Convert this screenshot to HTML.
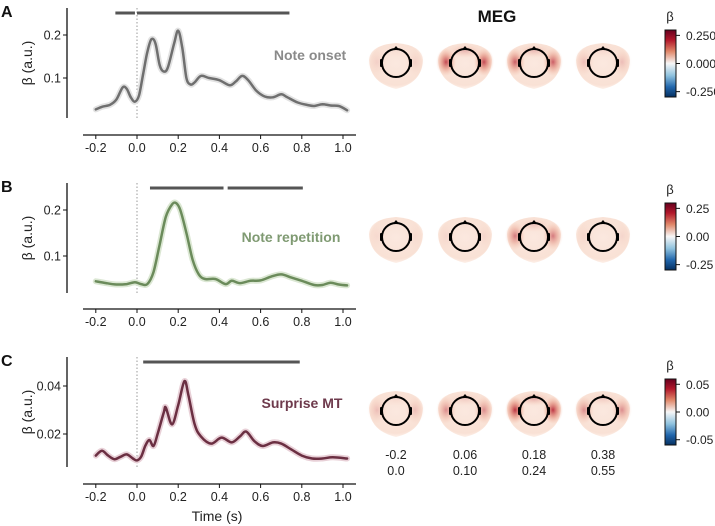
<!DOCTYPE html>
<html><head><meta charset="utf-8">
<style>
html,body{margin:0;padding:0;background:#fff;}
svg{display:block;font-family:"Liberation Sans Narrow","Liberation Sans",sans-serif;}
</style></head>
<body>
<svg id="fig" width="715" height="526" viewBox="0 0 715 526">
<defs>
<radialGradient id="blob" cx="50%" cy="45%" r="55%">
<stop offset="0" stop-color="#fbe8df"/><stop offset="0.85" stop-color="#f9e1d5"/><stop offset="1" stop-color="#fdf1ea"/>
</radialGradient>
<radialGradient id="spot" cx="50%" cy="50%" r="50%">
<stop offset="0" stop-color="#b2182b" stop-opacity="0.95"/><stop offset="0.5" stop-color="#d6604d" stop-opacity="0.5"/><stop offset="1" stop-color="#f4a582" stop-opacity="0"/>
</radialGradient>
<linearGradient id="cmap" x1="0" y1="0" x2="0" y2="1">
<stop offset="0" stop-color="#67001f"/><stop offset="0.15" stop-color="#b2182b"/><stop offset="0.32" stop-color="#e08769"/>
<stop offset="0.5" stop-color="#f7f7f7"/><stop offset="0.68" stop-color="#8fc2de"/><stop offset="0.85" stop-color="#2166ac"/><stop offset="1" stop-color="#053061"/>
</linearGradient>
</defs>
</svg>
<script>
const tA=[-0.2,-0.17,-0.13,-0.1,-0.07,-0.05,-0.03,-0.01,0.01,0.03,0.05,0.07,0.09,0.11,0.13,0.15,0.18,0.2,0.22,0.24,0.26,0.28,0.31,0.35,0.4,0.45,0.48,0.51,0.54,0.58,0.62,0.66,0.7,0.73,0.78,0.83,0.86,0.9,0.94,0.98,1.02];
const vA=[0.027,0.033,0.038,0.05,0.078,0.075,0.055,0.045,0.06,0.11,0.16,0.19,0.18,0.13,0.115,0.125,0.18,0.21,0.17,0.1,0.085,0.09,0.105,0.1,0.095,0.083,0.092,0.105,0.095,0.07,0.057,0.055,0.062,0.055,0.043,0.037,0.035,0.039,0.036,0.035,0.025];
const tB=[-0.2,-0.15,-0.1,-0.05,-0.01,0.02,0.05,0.08,0.11,0.14,0.17,0.19,0.21,0.24,0.27,0.3,0.33,0.38,0.43,0.46,0.5,0.55,0.6,0.65,0.7,0.75,0.8,0.86,0.9,0.94,0.98,1.02];
const vB=[0.045,0.041,0.038,0.039,0.043,0.039,0.039,0.065,0.125,0.185,0.212,0.215,0.2,0.15,0.092,0.06,0.05,0.05,0.039,0.046,0.041,0.046,0.047,0.055,0.06,0.053,0.046,0.037,0.037,0.042,0.038,0.036];
const tC=[-0.2,-0.17,-0.14,-0.11,-0.08,-0.05,-0.02,0.0,0.02,0.04,0.06,0.08,0.1,0.13,0.14,0.17,0.2,0.23,0.25,0.28,0.31,0.36,0.41,0.46,0.5,0.53,0.57,0.61,0.66,0.7,0.75,0.8,0.85,0.9,0.95,1.02];
const vC=[0.011,0.013,0.011,0.0095,0.0105,0.0115,0.0098,0.009,0.0105,0.015,0.0175,0.015,0.02,0.029,0.031,0.024,0.032,0.042,0.036,0.024,0.019,0.016,0.0185,0.0165,0.019,0.021,0.017,0.015,0.0165,0.016,0.0135,0.011,0.0098,0.0098,0.0103,0.0098];
const xTicks=[-0.2,0.0,0.2,0.4,0.6,0.8,1.0];
const sigA=[[-0.105,-0.01],[0.0,0.74]];
const sigB=[[0.063,0.42],[0.44,0.805]];
const sigC=[[0.03,0.79]];
const ticksA=[0.1,0.2], ticksB=[0.1,0.2], ticksC=[0.02,0.04];
const topoTimes=[["-0.2","0.0"],["0.06","0.10"],["0.18","0.24"],["0.38","0.55"]];
const intA=[0.1,0.8,0.7,0.2], intB=[0.05,0.07,0.55,0.07], intC=[0.2,0.45,0.9,0.45];

const svg=document.getElementById('fig');
const NS='http://www.w3.org/2000/svg';
function mk(tag,attrs,parent,text){const e=document.createElementNS(NS,tag);for(const k in attrs)e.setAttribute(k,attrs[k]);if(text!==undefined)e.textContent=text;(parent||svg).appendChild(e);return e;}
const xs=t=>137+206*t;
function smooth(pts){let d='M'+pts[0][0]+','+pts[0][1];for(let i=0;i<pts.length-1;i++){const p0=pts[Math.max(i-1,0)],p1=pts[i],p2=pts[i+1],p3=pts[Math.min(i+2,pts.length-1)];const c1=[p1[0]+(p2[0]-p0[0])/6,p1[1]+(p2[1]-p0[1])/6],c2=[p2[0]-(p3[0]-p1[0])/6,p2[1]-(p3[1]-p1[1])/6];d+=' C'+c1[0].toFixed(1)+','+c1[1].toFixed(1)+' '+c2[0].toFixed(1)+','+c2[1].toFixed(1)+' '+p2[0].toFixed(1)+','+p2[1].toFixed(1);}return d;}

function panel(o){
  const g=mk('g',{});
  
  
  const ys=v=>o.y0-(v-o.v0)*o.k;
  const L=mk('text',{x:1,y:o.top+9,'font-size':16,'font-weight':'bold',fill:'#111'},g,o.letter);
  
  
  const ya=mk('line',{x1:67,x2:67,y1:o.top,y2:o.top+110,stroke:'#111','stroke-width':1.3},g);
  
  
  o.ticks.forEach(v=>{const y=ys(v);mk('line',{x1:63,x2:67,y1:y,y2:y,stroke:'#111'},g);
    const tl=mk('text',{x:61,y:y+4.5,'font-size':12.5,'text-anchor':'end',fill:'#222'},g,String(v));
    
    });
  const yt=mk('text',{x:0,y:0,'font-size':14,'text-anchor':'middle',fill:'#222',transform:`translate(32,${o.top+55}) rotate(-90)`},g,'β (a.u.)');
  
  
  const xa=mk('line',{x1:83,x2:356,y1:o.xaxis,y2:o.xaxis,stroke:'#111','stroke-width':1.3},g);
  
  
  xTicks.forEach(t=>{mk('line',{x1:xs(t),x2:xs(t),y1:o.xaxis,y2:o.xaxis+4,stroke:'#111'},g);
    const tl=mk('text',{x:xs(t),y:o.xaxis+17,'font-size':12.5,'text-anchor':'middle',fill:'#222'},g,(t<0?'-':'')+Math.abs(t).toFixed(1));
    
    });
  mk('line',{x1:xs(0),x2:xs(0),y1:o.top,y2:o.top+112,stroke:'#999','stroke-width':1,'stroke-dasharray':'1.5,2'},g);
  o.sig.forEach(s=>{const b=mk('line',{x1:xs(s[0]),x2:xs(s[1]),y1:o.bar,y2:o.bar,stroke:'#555','stroke-width':3},g);
    
    });
  const pts=o.t.map((t,i)=>[xs(t),ys(o.v[i])]);
  const band=mk('path',{d:smooth(pts),fill:'none',stroke:o.band,'stroke-width':6,'stroke-linejoin':'round','stroke-linecap':'round'},g);
  
  
  const ln=mk('path',{d:smooth(pts),fill:'none',stroke:o.color,'stroke-width':2.5,'stroke-linejoin':'round','stroke-linecap':'round'},g);
  
  
  const lab=mk('text',{x:o.lx,y:o.ly,'font-size':14,'font-weight':'bold','text-anchor':'middle',fill:o.lc},g,o.label);
  
  
}
panel({name:'note-onset',letter:'A',top:8,y0:78,v0:0.1,k:430,ticks:ticksA,xaxis:135,bar:13,sig:sigA,t:tA,v:vA,color:'#6f6f6f',band:'#e2e2e2',label:'Note onset',lc:'#8a8a8a',lx:310,ly:60});
panel({name:'note-repetition',letter:'B',top:183,y0:256,v0:0.1,k:460,ticks:ticksB,xaxis:309,bar:188,sig:sigB,t:tB,v:vB,color:'#6b8b5b',band:'#dbe7d3',label:'Note repetition',lc:'#7f9a72',lx:291,ly:242});
panel({name:'surprise-mt',letter:'C',top:357,y0:434,v0:0.02,k:2400,ticks:ticksC,xaxis:484,bar:362,sig:sigC,t:tC,v:vC,color:'#6b2f42',band:'#e8d0d7',label:'Surprise MT',lc:'#6e3a4c',lx:302,ly:408});
const xt=mk('text',{x:217,y:521,'font-size':14,'text-anchor':'middle',fill:'#222'},svg,'Time (s)');


const meg=mk('text',{x:497,y:22,'font-size':17,'font-weight':'bold','text-anchor':'middle',fill:'#111'},svg,'MEG');



const hx=[396,465,534,603];
function topoRow(cy,ints,name){
  hx.forEach((cx,i)=>{
    const g=mk('g',{});
    
    
    mk('path',{d:`M${cx-27},${cy-3} Q${cx-26},${cy-18} ${cx},${cy-20} Q${cx+26},${cy-18} ${cx+27},${cy-3} Q${cx+26},${cy+20} ${cx},${cy+26} Q${cx-26},${cy+20} ${cx-27},${cy-3}Z`,fill:'url(#blob)'},g);
    const a=ints[i];
    [[-1],[1]].forEach(s=>mk('ellipse',{cx:cx+s[0]*19,cy:cy-1,rx:10,ry:14,fill:'url(#spot)',opacity:a},g));
    mk('ellipse',{cx:cx,cy:cy-12,rx:18,ry:7,fill:'url(#spot)',opacity:a*0.3},g);
    mk('circle',{cx:cx,cy:cy,r:14,fill:'none',stroke:'#000','stroke-width':2},g);
    mk('path',{d:`M${cx-3},${cy-13.5} L${cx},${cy-17} L${cx+3},${cy-13.5}Z`,fill:'#000'},g);
    mk('rect',{x:cx-16,y:cy-4,width:2.5,height:8,fill:'#000',rx:1},g);
    mk('rect',{x:cx+13.5,y:cy-4,width:2.5,height:8,fill:'#000',rx:1},g);
  });
}
topoRow(63,intA,'note-onset');
topoRow(237,intB,'note-repetition');
topoRow(411,intC,'surprise-mt');
topoTimes.forEach((p,i)=>{
  const t1=mk('text',{x:hx[i],y:459,'font-size':12.5,'text-anchor':'middle',fill:'#222'},svg,p[0]);
  
  
  const t2=mk('text',{x:hx[i],y:475,'font-size':12.5,'text-anchor':'middle',fill:'#222'},svg,p[1]);
  
  
});
function cbar(top,bot,labels,name){
  const g=mk('g',{});
  
  
  mk('text',{x:670,y:top-9,'font-size':13,'text-anchor':'middle',fill:'#222'},g,'β');
  mk('rect',{x:665,y:top,width:11,height:bot-top,fill:'url(#cmap)',stroke:'#111','stroke-width':1},g);
  labels.forEach((l,i)=>{const y=top+(bot-top)*(0.08+0.42*i);
    mk('line',{x1:676,x2:680,y1:y,y2:y,stroke:'#111'},g);
    mk('text',{x:686,y:y+4.5,'font-size':12,fill:'#222'},g,l);});
}
cbar(30,97,['0.250','0.000','-0.250'],'note-onset');
cbar(203,270,['0.25','0.00','-0.25'],'note-repetition');
cbar(379,445,['0.05','0.00','-0.05'],'surprise-mt');
</script>
</body></html>
